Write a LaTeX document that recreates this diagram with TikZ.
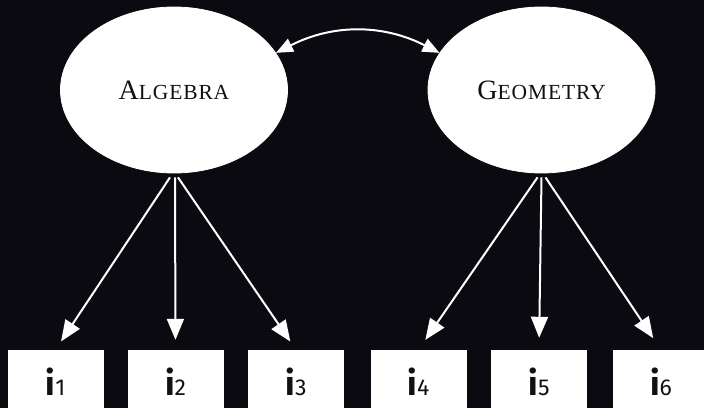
\documentclass[tikz,border=0pt]{standalone}
\usepackage{fontspec}
\newfontfamily\itemfont{Fira Sans}
\newfontfamily\capsfont[LetterSpace=4]{Liberation Serif}
\usetikzlibrary{arrows.meta,shapes.geometric}
\definecolor{bg}{HTML}{0A0A10}
\definecolor{ink}{HTML}{111111}
\tikzset{
  latent/.style={ellipse, fill=white, draw=white, line width=0.8pt,
    minimum width=227pt, minimum height=166pt, inner sep=0pt, text=ink},
  indicator/.style={rectangle, fill=white, draw=white,
    minimum width=95pt, minimum height=64pt, inner sep=0pt, text=ink},
  load/.style={draw=white, line width=2pt,
    -{Triangle[length=21pt,width=17pt]}, shorten >=10pt},
  corr/.style={draw=white, line width=2pt,
    {Triangle[length=17pt,width=14pt]}-{Triangle[length=17pt,width=14pt]}}
}
% small caps built from two sizes of the same face
\newcommand{\sccap}[2]{{\capsfont\fontsize{28}{28}\selectfont #1\fontsize{21.5}{21.5}\selectfont #2}}
\newcommand{\itm}[1]{{\itemfont\bfseries\fontsize{34}{34}\selectfont i}{\itemfont\fontsize{23}{23}\selectfont #1}}
\begin{document}
\begin{tikzpicture}[x=1pt,y=1pt]
  \fill[bg] (0,0) rectangle (704,408);
  \useasboundingbox (0,0) rectangle (704,408);
  \clip (0,0) rectangle (704,408);

  \node[latent] (alg) at (174,318) {\sccap{A}{LGEBRA}};
  \node[latent] (geo) at (541.5,318) {\sccap{G}{EOMETRY}};

  \node[indicator] (b1) at (55.5,26) {\itm{1}};
  \node[indicator] (b2) at (175.5,26) {\itm{2}};
  \node[indicator] (b3) at (296,26) {\itm{3}};
  \node[indicator] (b4) at (418.5,26) {\itm{4}};
  \node[indicator] (b5) at (539,26) {\itm{5}};
  \node[indicator] (b6) at (661,26) {\itm{6}};

  \draw[load] ([xshift=-4pt,yshift=-4pt]alg.south) -- (b1.north);
  \draw[load] ([xshift=1pt,yshift=-4pt]alg.south) -- (b2.north);
  \draw[load] ([xshift=4pt,yshift=-4pt]alg.south) -- (b3.north);
  \draw[load, shorten >=12pt] ([xshift=-4pt,yshift=-4pt]geo.south) -- (b4.north);
  \draw[load, shorten >=12pt] ([xshift=0pt,yshift=-4pt]geo.south) -- (b5.north);
  \draw[load, shorten >=14pt] ([xshift=4pt,yshift=-4pt]geo.south) -- (b6.north);

  \draw[corr] (alg.20) to[bend left=27] (geo.160);
\end{tikzpicture}
\end{document}
